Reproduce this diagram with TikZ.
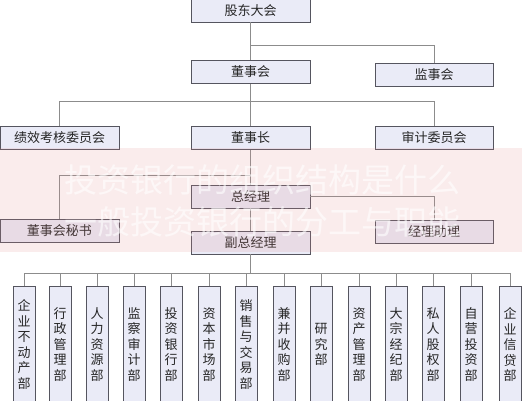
\documentclass[tikz,border=0pt]{standalone}
\usepackage{fontspec}
\setmainfont{Noto Sans CJK SC}
\definecolor{boxfill}{RGB}{234,235,247}
\definecolor{boxline}{RGB}{85,85,95}
\definecolor{linegray}{RGB}{140,140,140}
\definecolor{bandred}{RGB}{225,140,140}
\tikzset{
  box/.style={draw=boxline, fill=boxfill, line width=0.7pt, minimum width=119pt, minimum height=23pt, inner sep=0pt, font=\fontsize{13}{15}\selectfont, text=black!85},
  dept/.style={box, minimum width=22pt, minimum height=116pt, text width=14pt, align=center, font=\fontsize{13}{15.5}\selectfont},
  link/.style={draw=linegray, line width=0.8pt},
  wmark/.style={text=white, opacity=0.6, font=\fontsize{33}{36}\selectfont},
}
\begin{document}
\begin{tikzpicture}[x=1pt,y=-1pt]
\useasboundingbox (0,0) rectangle (522,400);
\fill[white] (0,0) rectangle (522,400);
\clip (0,0) rectangle (522,400);
% coordinates of bus rows
\coordinate (r1) at (0,45);
\coordinate (r2) at (0,101);
\coordinate (r3) at (0,175);
\coordinate (r4) at (0,273);
% nodes
\node[box] (gd) at (250.5,10.5) {股东大会};
\node[box] (dsh) at (250.5,72) {董事会};
\node[box, minimum width=118pt] (jsh) at (434,74.5) {监事会};
\node[box] (jx) at (59.5,138) {绩效考核委员会};
\node[box] (dsz) at (250.5,138) {董事长};
\node[box, minimum width=118pt] (sj) at (434,138) {审计委员会};
\node[box] (zjl) at (250.5,196.5) {总经理};
\node[box] (msh) at (59.5,231) {董事会秘书};
\node[box, minimum width=118pt] (jlzl) at (434,231.5) {经理助理};
\node[box] (fz) at (250.5,242.5) {副总经理};
\foreach \i/\x/\t in {
  1/24/{企\\业\\不\\动\\产\\部},
  2/60/{行\\政\\管\\理\\部},
  3/97/{人\\力\\资\\源\\部},
  4/134/{监\\察\\审\\计\\部},
  5/171/{投\\资\\银\\行\\部},
  6/209/{资\\本\\市\\场\\部},
  7/246/{销\\售\\与\\交\\易\\部},
  8/284/{兼\\并\\收\\购\\部},
  9/321/{研\\究\\部},
  10/359/{资\\产\\管\\理\\部},
  11/396/{大\\宗\\经\\纪\\部},
  12/433/{私\\人\\股\\权\\部},
  13/471/{自\\营\\投\\资\\部},
  14/510/{企\\业\\信\\贷\\部}}{
  \node[dept] (d\i) at (\x,344.5) {\t};
}
% connectors
\draw[link] (gd.south) -- (dsh.north);
\draw[link] (gd.south |- r1) -| (jsh.north);
\draw[link] (dsh.south) -- (dsz.north);
\draw[link] (jx.north) |- (sj.north |- r2) -- (sj.north);
\draw[link] (dsz.south) -- (zjl.north);
\draw[link] (msh.north) |- (dsz.south |- r3);
\draw[link] (zjl.east) -| (jlzl.north);
\draw[link] (zjl.south) -- (fz.north);
\draw[link] (fz.south) -- (fz.south |- r4);
\draw[link] (d1.north |- r4) -- (d14.north |- r4);
\foreach \i in {1,...,14}{
  \draw[link] (d\i.north) -- (d\i.north |- r4);
}
% watermark band
\fill[bandred, opacity=0.16] (0,148) rectangle (522,252);
\node[wmark] (w1) at (262,180) {投资银行的组织结构是什么};
\node[wmark] (w2) at (262,222) {一般投资银行的分工与职能};
\end{tikzpicture}
\end{document}
